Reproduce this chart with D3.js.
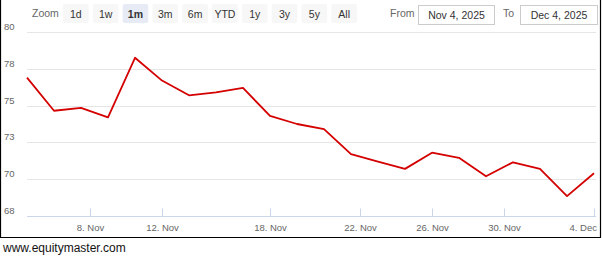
<!DOCTYPE html>
<html>
<head>
<meta charset="utf-8">
<script src="https://cdn.jsdelivr.net/npm/d3@7"></script>
<style>
  body { margin: 0; background: #fff; }
  svg { display: block; font-family: "Liberation Sans", Arial, sans-serif; }
</style>
</head>
<body>
<svg id="chart" width="602" height="258"></svg>
<script>
// trading days shown on the chart (ordinal axis, no weekends / holidays)
const tradeDates = [
  "2025-11-04", "2025-11-06", "2025-11-07", "2025-11-10", "2025-11-11",
  "2025-11-12", "2025-11-13", "2025-11-14", "2025-11-17", "2025-11-18",
  "2025-11-19", "2025-11-20", "2025-11-21", "2025-11-24", "2025-11-25",
  "2025-11-26", "2025-11-27", "2025-11-28", "2025-12-01", "2025-12-02",
  "2025-12-03", "2025-12-04"
];
const prices = [
  76.9, 74.65, 74.85, 74.2, 78.25,
  76.7, 75.7, 75.9, 76.2, 74.3,
  73.75, 73.4, 71.7, 71.2, 70.7,
  71.8, 71.45, 70.2, 71.15, 70.7,
  68.85, 70.4
];
const xTickDates = ["2025-11-08", "2025-11-12", "2025-11-18", "2025-11-22", "2025-11-26", "2025-11-30", "2025-12-04"];
const xTickLabels = ["8. Nov", "12. Nov", "18. Nov", "22. Nov", "26. Nov", "30. Nov", "4. Dec"];
const yTicks = [67.5, 70, 72.5, 75, 77.5, 80];
const yTickLabels = ["68", "70", "73", "75", "78", "80"];
const zoomButtons = ["1d", "1w", "1m", "3m", "6m", "YTD", "1y", "3y", "5y", "All"];
const selectedButton = "1m";
const fromText = "Nov 4, 2025";
const toText = "Dec 4, 2025";

const svg = d3.select("#chart");
const parse = d3.timeParse("%Y-%m-%d");
const days = tradeDates.map(parse);

//Scales
const xScale = d3.scaleLinear().domain([0, days.length - 1]).range([27, 594]);
const yScale = d3.scaleLinear().domain([67.5, 80]).range([216, 32]);
const plotRight = 596;

//ordinal position of any calendar date between trading days
const ordinalIndex = (dt) => {
  for (let i = 0; i < days.length - 1; i++) {
    if (dt >= days[i] && dt <= days[i + 1]) {
      return i + (dt - days[i]) / (days[i + 1] - days[i]);
    }
  }
  return days.length - 1;
};

//Frame around the chart
svg.append("path")
  .attr("d", "M0.5,0 V237.5 H600.5 V0")
  .attr("fill", "none")
  .attr("stroke", "#000")
  .attr("stroke-width", 1.2);

//Gridlines + y labels
yTicks.forEach((t, i) => {
  const y = Math.round(yScale(t)) + 0.5;
  if (i > 0) {
    svg.append("line")
      .attr("x1", 27).attr("x2", plotRight)
      .attr("y1", y).attr("y2", y)
      .attr("stroke", "#e6e6e6");
  }
  svg.append("text")
    .attr("x", 4).attr("y", y - 3)
    .attr("font-size", 9.5)
    .attr("fill", "#666")
    .text(yTickLabels[i]);
});

//X axis line and ticks
const axisY = Math.round(yScale(67.5)) + 0.5;
svg.append("line")
  .attr("x1", 27).attr("x2", plotRight)
  .attr("y1", axisY).attr("y2", axisY)
  .attr("stroke", "#ccd6eb");

xTickDates.forEach((d, i) => {
  const x = Math.round(xScale(ordinalIndex(parse(d)))) + 0.5;
  svg.append("line")
    .attr("x1", x).attr("x2", x)
    .attr("y1", axisY - 8).attr("y2", axisY)
    .attr("stroke", "#ccd6eb");
  const lbl = svg.append("text")
    .attr("x", x).attr("y", 231)
    .attr("font-size", 9.5)
    .attr("fill", "#666")
    .attr("text-anchor", "middle")
    .text(xTickLabels[i]);
  const w = lbl.node().getComputedTextLength();
  if (x + w / 2 > 597) lbl.attr("x", 597).attr("text-anchor", "end");
});

//Price line
const line = d3.line()
  .x((d, i) => xScale(i))
  .y((d) => yScale(d));
svg.append("path")
  .datum(prices)
  .attr("d", line)
  .attr("fill", "none")
  .attr("stroke", "#d40000")
  .attr("stroke-width", 1.8)
  .attr("stroke-linejoin", "round");

//Range selector buttons
svg.append("text")
  .attr("x", 32).attr("y", 17)
  .attr("font-size", 10.5)
  .attr("fill", "#666")
  .text("Zoom");

const btnX = d3.scaleBand().domain(zoomButtons).range([63, 357]).paddingInner(0.14);
const btn = svg.selectAll("g.btn")
  .data(zoomButtons)
  .enter()
  .append("g")
  .attr("class", "btn")
  .attr("transform", (d) => `translate(${btnX(d)},4)`);
btn.append("rect")
  .attr("width", btnX.bandwidth())
  .attr("height", 19)
  .attr("rx", 2)
  .attr("fill", (d) => (d === selectedButton ? "#e6ebf5" : "#f7f7f7"));
btn.append("text")
  .attr("x", btnX.bandwidth() / 2)
  .attr("y", 13.5)
  .attr("text-anchor", "middle")
  .attr("font-size", 10.5)
  .attr("font-weight", (d) => (d === selectedButton ? "bold" : "normal"))
  .attr("fill", "#333")
  .text((d) => d);

//Date inputs
const inputs = [
  { label: "From", lx: 390, bx: 418.5, bw: 76, value: fromText },
  { label: "To", lx: 503, bx: 520.5, bw: 77, value: toText },
];
inputs.forEach((inp) => {
  svg.append("text")
    .attr("x", inp.lx).attr("y", 17)
    .attr("font-size", 10.5)
    .attr("fill", "#666")
    .text(inp.label);
  svg.append("rect")
    .attr("x", inp.bx).attr("y", 5.5)
    .attr("width", inp.bw).attr("height", 19)
    .attr("fill", "#fff")
    .attr("stroke", "#ccc");
  svg.append("text")
    .attr("x", inp.bx + inp.bw / 2).attr("y", 18.5)
    .attr("text-anchor", "middle")
    .attr("font-size", 10.5)
    .attr("fill", "#333")
    .text(inp.value);
});

//Footer
svg.append("text")
  .attr("x", 3).attr("y", 252)
  .attr("font-size", 12)
  .attr("fill", "#111")
  .text("www.equitymaster.com");
</script>
</body>
</html>
